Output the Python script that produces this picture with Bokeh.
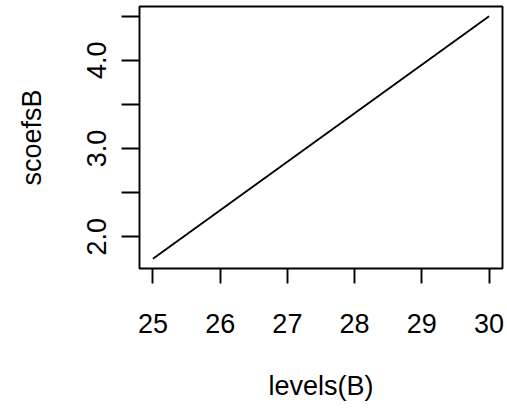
from bokeh.plotting import figure
from bokeh.models import Range1d, FixedTicker
from bokeh.embed import file_html
from bokeh.resources import INLINE

levels_B = [25, 26, 27, 28, 29, 30]
scoefsB = [1.75, 2.30, 2.85, 3.40, 3.95, 4.50]

x_ticks = [25, 26, 27, 28, 29, 30]
y_ticks = [2.0, 2.5, 3.0, 3.5, 4.0, 4.5]
y_tick_labels = ["2.0", "", "3.0", "", "4.0", ""]

FONT = "Liberation Sans"
FS = "27px"
LW = 1.9

p = figure(width=507, height=410, output_backend="svg", toolbar_location=None,
           x_range=Range1d(24.8, 30.2), y_range=Range1d(1.64, 4.61),
           min_border_left=139, min_border_right=5, min_border_top=6, min_border_bottom=142)

p.line(levels_B, scoefsB, line_color="black", line_width=LW)

p.grid.visible = False
p.background_fill_color = "white"
p.border_fill_color = "white"
p.outline_line_color = "black"
p.outline_line_width = LW

xa = p.xaxis[0]
xa.ticker = FixedTicker(ticks=x_ticks)
xa.axis_line_color = None
xa.major_tick_line_color = "black"
xa.major_tick_line_width = LW
xa.major_tick_out = 15
xa.major_tick_in = 0
xa.minor_tick_line_color = None
xa.major_label_text_font = FONT
xa.major_label_text_font_size = FS
xa.major_label_text_color = "black"
xa.major_label_standoff = 30
xa.axis_label = "levels(B)"
xa.axis_label_text_font = FONT
xa.axis_label_text_font_size = FS
xa.axis_label_text_font_style = "normal"
xa.axis_label_text_color = "black"
xa.axis_label_standoff = 35

ya = p.yaxis[0]
ya.ticker = FixedTicker(ticks=y_ticks)
ya.major_label_overrides = {t: l for t, l in zip(y_ticks, y_tick_labels)}
ya.major_label_orientation = "vertical"
ya.axis_line_color = None
ya.major_tick_line_color = "black"
ya.major_tick_line_width = LW
ya.major_tick_out = 18
ya.major_tick_in = 0
ya.minor_tick_line_color = None
ya.major_label_text_font = FONT
ya.major_label_text_font_size = FS
ya.major_label_text_color = "black"
ya.major_label_standoff = 15
ya.axis_label = "scoefsB"
ya.axis_label_text_font = FONT
ya.axis_label_text_font_size = FS
ya.axis_label_text_font_style = "normal"
ya.axis_label_text_color = "black"
ya.axis_label_standoff = 38

open("out.html", "w").write(file_html(p, INLINE))
